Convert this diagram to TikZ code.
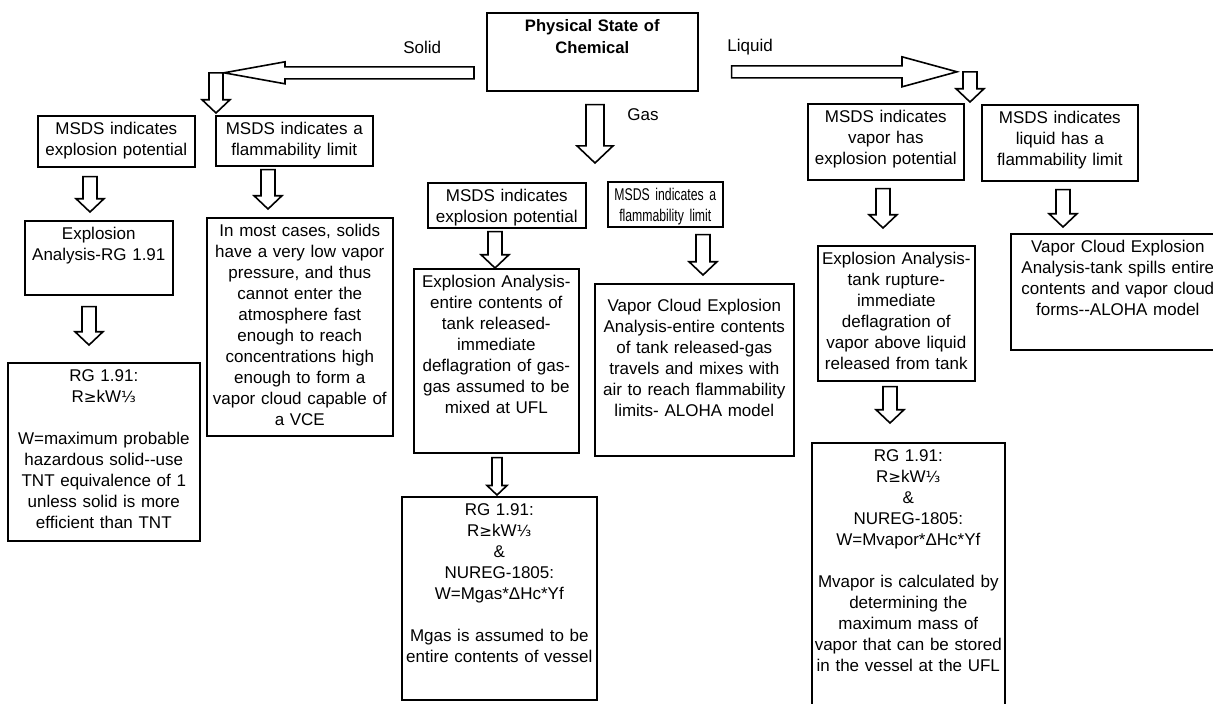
\documentclass[tikz,border=0pt]{standalone}
\usepackage{fontspec}
\setmainfont{Liberation Sans}
\newfontfamily\narrowfont{Liberation Sans}[FakeStretch=0.72]
\newfontfamily\symbfont{DejaVu Sans}
\usetikzlibrary{calc}
\newcommand{\bodyfont}{\fontsize{8.5}{10.5}\selectfont}
\newcommand{\titlefont}{\fontsize{8.3}{11}\selectfont\bfseries}
\newcommand{\rgrule}{R{\fontsize{7.6}{10.5}\symbfont ≥}kW{\fontsize{7.6}{10.5}\symbfont ⅓}}
\tikzset{
  box/.style={draw, line width=0.8pt, anchor=north west, align=center,
    inner xsep=1pt, inner ysep=3pt, text height=6.2pt, font=\bodyfont},
  hollow/.style={draw, line width=0.8pt, line join=miter},
  lbl/.style={anchor=west, inner sep=0pt, font=\bodyfont}}
% box: name, left, top, width, height (px), text
\newcommand{\flowbox}[7][]{%
  \pgfmathsetmacro\bw{#5*0.5-2}\pgfmathsetmacro\bd{#6*0.5-12.2}%
  \node[box, text width=\bw pt, text depth=\bd pt, #1] (#2) at (#3,#4) {#7};}
% hollow arrow pointing down: x, from, gap, to, gap
\newcommand{\hollowdown}[6][7]{%
  \path (#2,0 |- #3) ++(0,#4) coordinate (arrtop)
        (#2,0 |- #5) ++(0,-#6) coordinate (arrtip);
  \draw[hollow] ($(arrtop)+(-#1,0)$) -- ($(arrtop)+(#1,0)$)
    -- ($(arrtip)+(#1,-1.9*#1)$) -- ($(arrtip)+(2*#1,-1.9*#1)$) -- (arrtip)
    -- ($(arrtip)+(-2*#1,-1.9*#1)$) -- ($(arrtip)+(-#1,-1.9*#1)$) -- cycle;}
% hollow arrow sideways: tail, tip, head offset, shaft and head half widths
\newcommand{\hollowside}[5]{%
  \draw[hollow] ($(#1)+(0,-#4)$) -- ($(#2)+(#3,-#4)$) -- ($(#2)+(#3,-#5)$)
    -- (#2) -- ($(#2)+(#3,#5)$) -- ($(#2)+(#3,#4)$) -- ($(#1)+(0,#4)$) -- cycle;}

\begin{document}
\begin{tikzpicture}[x=0.5pt,y=-0.5pt]
  \useasboundingbox (0,0) rectangle (1213,703);
  \flowbox[font=\titlefont]{title}{486}{12}{211}{78}{Physical State of\\Chemical}
  % solid
  \flowbox{sx1}{37}{115}{157}{51}{MSDS indicates\\explosion potential}
  \flowbox{sf1}{215}{115}{157}{50}{MSDS indicates a\\flammability limit}
  \flowbox{sx2}{24}{220}{148}{74}{Explosion\\Analysis-RG 1.91}
  \flowbox{sx3}{7}{362}{192}{178}{RG 1.91:\\\rgrule\\[10.5pt]W=maximum probable\\
    hazardous solid-{}-use\\TNT equivalence of 1\\unless solid is more\\efficient than TNT}
  \flowbox{sf2}{206}{217}{186}{218}{In most cases, solids\\have a very low vapor\\
    pressure, and thus\\cannot enter the\\atmosphere fast\\enough to reach\\
    concentrations high\\enough to form a\\vapor cloud capable of\\a VCE}
  % gas
  \flowbox{gx1}{427}{182}{158}{45}{MSDS indicates\\explosion potential}
  \flowbox[font=\fontsize{8.5}{10.5}\narrowfont]{gf1}{607}{181}{115}{45}{MSDS indicates a\\flammability limit}
  \flowbox{gx2}{413}{268}{165}{184}{Explosion Analysis-\\entire contents of\\tank released-\\
    immediate\\deflagration of gas-\\gas assumed to be\\mixed at UFL}
  \flowbox{gx3}{401}{496}{195}{203}{RG 1.91:\\\rgrule\\\&\\NUREG-1805:\\W=Mgas*ΔHc*Yf\\[10.5pt]
    Mgas is assumed to be\\entire contents of vessel}
  \flowbox[text height=11pt, text depth=69pt]{gf2}{594}{283}{199}{172}{Vapor Cloud Explosion\\
    Analysis-entire contents\\of tank released-gas\\travels and mixes with\\
    air to reach flammability\\limits- ALOHA model}
  % liquid
  \flowbox{lx1}{807}{103}{156}{76}{MSDS indicates\\vapor has\\explosion potential}
  \flowbox{lf1}{981}{104}{156}{76}{MSDS indicates\\liquid has a\\flammability limit}
  \flowbox{lx2}{817}{245}{157}{135}{Explosion Analysis-\\tank rupture-\\immediate\\
    deflagration of\\vapor above liquid\\released from tank}
  \flowbox{lx3}{811}{442}{193}{275}{RG 1.91:\\\rgrule\\\&\\NUREG-1805:\\W=Mvapor*ΔHc*Yf\\[10.5pt]
    Mvapor is calculated by\\determining the\\maximum mass of\\
    vapor that can be stored\\in the vessel at the UFL}
  \flowbox{lf2}{1010}{233}{214}{116}{Vapor Cloud Explosion\\Analysis-tank spills entire\\
    contents and vapor cloud\\forms-{}-ALOHA model}
  \node[lbl] (solid) at (403,47) {Solid};
  \node[lbl] (liquid) at (727,47) {Liquid};
  \node[lbl] (gas) at (627,115) {Gas};
  \coordinate (solidtail) at ($(title.west)+(-12,21)$);
  \coordinate (solidtip) at (224,0 |- solidtail);
  \coordinate (liquidtail) at ($(title.east)+(33,20)$);
  \coordinate (liquidtip) at (957,0 |- liquidtail);
  \hollowside{solidtail}{solidtip}{61}{6}{11}
  \hollowside{liquidtail}{liquidtip}{-55}{6}{15}
  \hollowdown{216}{solidtip}{0}{sx1.north}{2}
  \hollowdown{90}{sx1.south}{9}{sx2.north}{8}
  \hollowdown{89}{sx2.south}{11}{sx3.north}{17}
  \hollowdown{268}{sf1.south}{3}{sf2.north}{8}
  \hollowdown[9]{595}{title.south}{13}{gx1.north}{19}
  \hollowdown{495}{gx1.south}{3}{gx2.north}{0}
  \hollowdown[5]{497}{gx2.south}{4}{gx3.north}{1}
  \hollowdown{703}{gf1.south}{7}{gf2.north}{8}
  \hollowdown{970}{liquidtip}{0}{lx1.north}{1}
  \hollowdown{883}{lx1.south}{8}{lx2.north}{17}
  \hollowdown{890}{lx2.south}{5}{lx3.north}{19}
  \hollowdown{1063}{lf1.south}{8}{lf2.north}{6}
\end{tikzpicture}
\end{document}
